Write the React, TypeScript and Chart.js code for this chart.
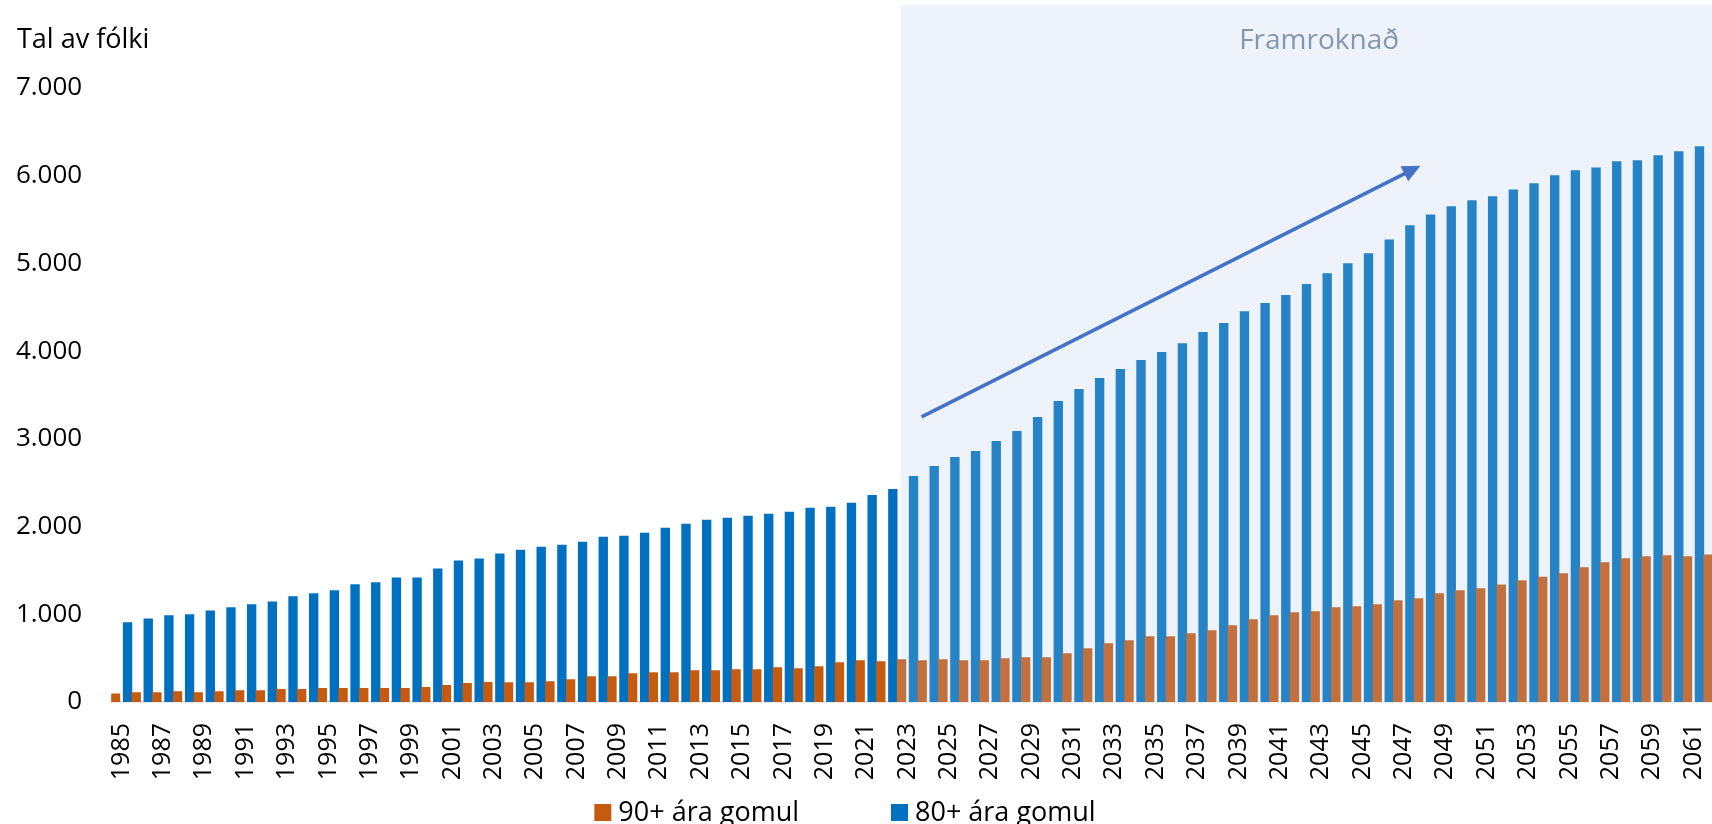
import React, { useEffect, useRef } from 'react';
import { Chart, registerables } from 'chart.js';

Chart.register(...registerables);

const YEARS = [
  '1985', '1986', '1987', '1988', '1989', '1990', '1991', '1992', '1993', '1994',
  '1995', '1996', '1997', '1998', '1999', '2000', '2001', '2002', '2003', '2004',
  '2005', '2006', '2007', '2008', '2009', '2010', '2011', '2012', '2013', '2014',
  '2015', '2016', '2017', '2018', '2019', '2020', '2021', '2022', '2023', '2024',
  '2025', '2026', '2027', '2028', '2029', '2030', '2031', '2032', '2033', '2034',
  '2035', '2036', '2037', '2038', '2039', '2040', '2041', '2042', '2043', '2044',
  '2045', '2046', '2047', '2048', '2049', '2050', '2051', '2052', '2053', '2054',
  '2055', '2056', '2057', '2058', '2059', '2060', '2061', '2062',
];

const OVER_90 = [
  97, 112, 112, 123, 112, 123, 135, 135, 148, 148,
  159, 159, 159, 159, 159, 171, 194, 216, 228, 226,
  226, 237, 260, 294, 293, 327, 338, 338, 361, 361,
  372, 372, 395, 384, 407, 452, 475, 464, 486, 475,
  486, 475, 475, 498, 509, 509, 555, 612, 669, 703,
  749, 749, 783, 817, 874, 942, 988, 1022, 1035, 1079,
  1091, 1113, 1159, 1182, 1239, 1273, 1296, 1341, 1387, 1429,
  1467, 1535, 1592, 1638, 1661, 1672, 1661, 1683,
];

const OVER_80 = [
  908, 952, 988, 1000, 1044, 1080, 1113, 1147, 1207, 1241,
  1275, 1343, 1366, 1419, 1419, 1522, 1613, 1636, 1693, 1737,
  1771, 1794, 1828, 1885, 1896, 1930, 1987, 2033, 2079, 2101,
  2124, 2147, 2170, 2215, 2227, 2272, 2360, 2428, 2576, 2690,
  2793, 2861, 2975, 3089, 3249, 3431, 3568, 3694, 3796, 3899,
  3990, 4089, 4218, 4321, 4454, 4549, 4640, 4765, 4887, 5001,
  5115, 5274, 5434, 5559, 5651, 5719, 5765, 5844, 5913, 6004,
  6061, 6095, 6164, 6175, 6232, 6278, 6335, 6390,
];

const LABEL_90 = '90+ ára gomul';
const LABEL_80 = '80+ ára gomul';
const Y_TITLE = 'Tal av fólki';
const PROJECTION_TEXT = 'Framroknað';
const PROJECTION_START = '2023';
const Y_MIN = 0;
const Y_MAX = 7000;
const Y_STEP = 1000;

// annotation anchors in data units (category index, value)
const SHADE_TOP_VALUE = 7950;
const SHADE_START_OFFSET = -0.32;
const PROJECTION_TEXT_POS = { x: 57.9, y: 7440 };
const ARROW = { x0: 38.68, y0: 3250, x1: 62.8, y1: 6115 };

const FONT = '"Open Sans", "Noto Sans", sans-serif';
const COLORS = {
  orange: '#C55A11',
  orangeProj: '#C2703D',
  blue: '#0070C0',
  blueProj: '#2683C6',
  shade: '#EEF2FA',
  projText: '#8497B0',
  arrow: '#4472C4',
  text: '#000000',
  axis: '#D9D9D9',
};

const CANVAS_W = 1730;
const CANVAS_H = 824;

const fmt = (v: number) => String(v).replace(/\B(?=(\d{3})+(?!\d))/g, '.');

const projIndex = YEARS.indexOf(PROJECTION_START);
const isProj = (i: number) => i >= projIndex;

const decorPlugin = {
  id: 'decor',
  beforeDatasetsDraw(chart: any) {
    const { ctx, chartArea, scales } = chart;
    const x = scales.x;
    const y = scales.y;
    const step = x.getPixelForValue(1) - x.getPixelForValue(0);
    const x0 = x.getPixelForValue(projIndex) + SHADE_START_OFFSET * step;
    const y0 = y.getPixelForValue(SHADE_TOP_VALUE);
    ctx.save();
    ctx.fillStyle = COLORS.shade;
    ctx.fillRect(x0, y0, chart.width - x0, chartArea.bottom - y0);
    ctx.fillStyle = COLORS.projText;
    ctx.font = `28px ${FONT}`;
    ctx.textAlign = 'center';
    ctx.textBaseline = 'alphabetic';
    const tx = x.getPixelForValue(0) + PROJECTION_TEXT_POS.x * step;
    ctx.fillText(PROJECTION_TEXT, tx, y.getPixelForValue(PROJECTION_TEXT_POS.y));
    ctx.restore();
  },
  afterDatasetsDraw(chart: any) {
    const { ctx, scales } = chart;
    const x = scales.x;
    const y = scales.y;
    const step = x.getPixelForValue(1) - x.getPixelForValue(0);
    const px = (i: number) => x.getPixelForValue(0) + i * step;
    const ax0 = px(ARROW.x0), ay0 = y.getPixelForValue(ARROW.y0);
    const ax1 = px(ARROW.x1), ay1 = y.getPixelForValue(ARROW.y1);
    const ang = Math.atan2(ay1 - ay0, ax1 - ax0);
    const headLen = 18, headW = 8.5;
    const bx = ax1 - headLen * Math.cos(ang);
    const by = ay1 - headLen * Math.sin(ang);
    ctx.save();
    ctx.strokeStyle = COLORS.arrow;
    ctx.fillStyle = COLORS.arrow;
    ctx.lineWidth = 3.5;
    ctx.beginPath();
    ctx.moveTo(ax0, ay0);
    ctx.lineTo(bx + 2 * Math.cos(ang), by + 2 * Math.sin(ang));
    ctx.stroke();
    ctx.beginPath();
    ctx.moveTo(ax1, ay1);
    ctx.lineTo(bx + headW * Math.sin(ang), by - headW * Math.cos(ang));
    ctx.lineTo(bx - headW * Math.sin(ang), by + headW * Math.cos(ang));
    ctx.closePath();
    ctx.fill();
    ctx.restore();
  },
  afterDraw(chart: any) {
    const { ctx } = chart;
    ctx.save();
    ctx.fillStyle = COLORS.text;
    ctx.font = `27px ${FONT}`;
    ctx.textAlign = 'left';
    ctx.textBaseline = 'alphabetic';
    ctx.fillText(Y_TITLE, 17, 48);

    // legend
    const items = chart.data.datasets.map((d: any, i: number) => ({
      label: d.label,
      color: i === 0 ? COLORS.orange : COLORS.blue,
    }));
    const box = 17, gapText = 7, gapItem = 92;
    const widths = items.map((it: any) => ctx.measureText(it.label).width);
    const total = widths.reduce((a: number, b: number) => a + b, 0) + items.length * (box + gapText) + gapItem * (items.length - 1);
    let cx = 845 - total / 2;
    const baseY = 821;
    items.forEach((it: any, i: number) => {
      ctx.fillStyle = it.color;
      ctx.fillRect(cx, baseY - 17, box, box);
      ctx.fillStyle = COLORS.text;
      ctx.fillText(it.label, cx + box + gapText, baseY);
      cx += box + gapText + widths[i] + gapItem;
    });
    ctx.restore();
  },
};

export default function App() {
  const ref = useRef<HTMLCanvasElement | null>(null);

  useEffect(() => {
    if (!ref.current) return;
    const barOpts = { categoryPercentage: 1.16, barPercentage: 0.78, borderWidth: 0 };
    const chart = new Chart(ref.current, {
      type: 'bar',
      data: {
        labels: YEARS,
        datasets: [
          {
            label: LABEL_90,
            data: OVER_90,
            backgroundColor: (c: any) => (isProj(c.dataIndex) ? COLORS.orangeProj : COLORS.orange),
            ...barOpts,
          },
          {
            label: LABEL_80,
            data: OVER_80,
            backgroundColor: (c: any) => (isProj(c.dataIndex) ? COLORS.blueProj : COLORS.blue),
            ...barOpts,
          },
        ],
      },
      options: {
        responsive: false,
        animation: false,
        devicePixelRatio: 1,
        layout: { padding: { top: 88, right: 5.5, bottom: 0, left: 0 } },
        plugins: {
          legend: { display: false },
          tooltip: { enabled: false },
          title: { display: false },
        },
        scales: {
          x: {
            grid: { display: false, drawTicks: false },
            border: { display: true, color: COLORS.axis, width: 1.5 },
            ticks: {
              autoSkip: false,
              maxRotation: 90,
              minRotation: 90,
              padding: 21,
              color: COLORS.text,
              font: { family: FONT, size: 25 },
              callback: (_v: any, i: number) => (i % 2 === 0 ? YEARS[i] : null),
            },
            afterFit: (s: any) => {
              s.height = 122;
              s.paddingLeft = 0;
              s.paddingRight = 0;
            },
          },
          y: {
            min: Y_MIN,
            max: Y_MAX,
            grid: { display: false, drawTicks: false },
            border: { display: false },
            ticks: {
              stepSize: Y_STEP,
              padding: 29,
              color: COLORS.text,
              font: { family: FONT, size: 26 },
              callback: (v: any) => fmt(Number(v)),
            },
            afterFit: (s: any) => {
              s.width = 111.2;
              s.paddingTop = 0;
              s.paddingBottom = 0;
            },
          },
        },
      },
      plugins: [decorPlugin],
    } as any);
    return () => chart.destroy();
  }, []);

  return (
    <div
      style={{
        position: 'fixed',
        left: 0,
        top: 0,
        width: 1712,
        height: 824,
        overflow: 'hidden',
        background: '#ffffff',
      }}
    >
      <canvas
        ref={ref}
        width={CANVAS_W}
        height={CANVAS_H}
        style={{ display: 'block', width: CANVAS_W, height: CANVAS_H }}
      />
    </div>
  );
}
